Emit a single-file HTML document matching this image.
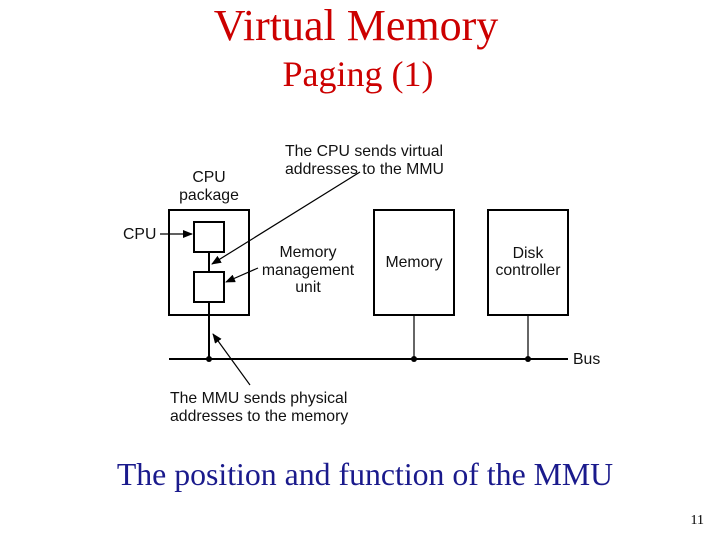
<!DOCTYPE html>
<html><head><style>
body{margin:0;width:720px;height:540px;background:#fff;overflow:hidden}
</style></head><body>
<svg width="720" height="540" xmlns="http://www.w3.org/2000/svg">
<defs><marker id="a" markerWidth="10" markerHeight="8" refX="9" refY="4" orient="auto" markerUnits="userSpaceOnUse"><path d="M0,0 L10,4 L0,8 z" fill="#000"/></marker></defs>
<text x="356" y="40" font-family="Liberation Serif" font-size="44" fill="#cc0000" text-anchor="middle">Virtual Memory</text>
<text x="358" y="86" font-family="Liberation Serif" font-size="36" fill="#cc0000" text-anchor="middle">Paging (1)</text>
<g font-family="Liberation Sans" font-size="15.8" fill="#111">
<text x="285" y="156">The CPU sends virtual</text>
<text x="285" y="174">addresses to the MMU</text>
<text x="209" y="182" text-anchor="middle">CPU</text>
<text x="209" y="200" text-anchor="middle">package</text>
<text x="123" y="239">CPU</text>
<text x="308" y="257" text-anchor="middle">Memory</text>
<text x="308" y="275" text-anchor="middle">management</text>
<text x="308" y="292" text-anchor="middle">unit</text>
<text x="414" y="267" text-anchor="middle">Memory</text>
<text x="528" y="258" text-anchor="middle">Disk</text>
<text x="528" y="275" text-anchor="middle">controller</text>
<text x="573" y="364">Bus</text>
<text x="170" y="403">The MMU sends physical</text>
<text x="170" y="421">addresses to the memory</text>
</g>
<g fill="none" stroke="#000" stroke-width="2">
<rect x="169" y="210" width="80" height="105"/>
<rect x="194" y="222" width="30" height="30"/>
<rect x="194" y="272" width="30" height="30"/>
<rect x="374" y="210" width="80" height="105"/>
<rect x="488" y="210" width="80" height="105"/>
<line x1="209" y1="252" x2="209" y2="272"/>
<line x1="209" y1="302" x2="209" y2="359"/>
<line x1="169" y1="359" x2="568" y2="359"/>
</g>
<g stroke="#000" stroke-width="1.2">
<line x1="414" y1="315" x2="414" y2="359"/>
<line x1="528" y1="315" x2="528" y2="359"/>
<line x1="160" y1="234" x2="192" y2="234" marker-end="url(#a)"/>
<line x1="360" y1="172" x2="212" y2="264" marker-end="url(#a)"/>
<line x1="258" y1="268" x2="226" y2="282" marker-end="url(#a)"/>
<line x1="250" y1="385" x2="213" y2="334" marker-end="url(#a)"/>
</g>
<g fill="#000"><circle cx="209" cy="359" r="3"/><circle cx="414" cy="359" r="3"/><circle cx="528" cy="359" r="3"/></g>
<text x="365" y="485" font-family="Liberation Serif" font-size="31.8" fill="#1a1a8c" text-anchor="middle">The position and function of the MMU</text>
<text x="704" y="524" font-family="Liberation Serif" font-size="14" fill="#000" text-anchor="end">11</text>
</svg>
</body></html>
